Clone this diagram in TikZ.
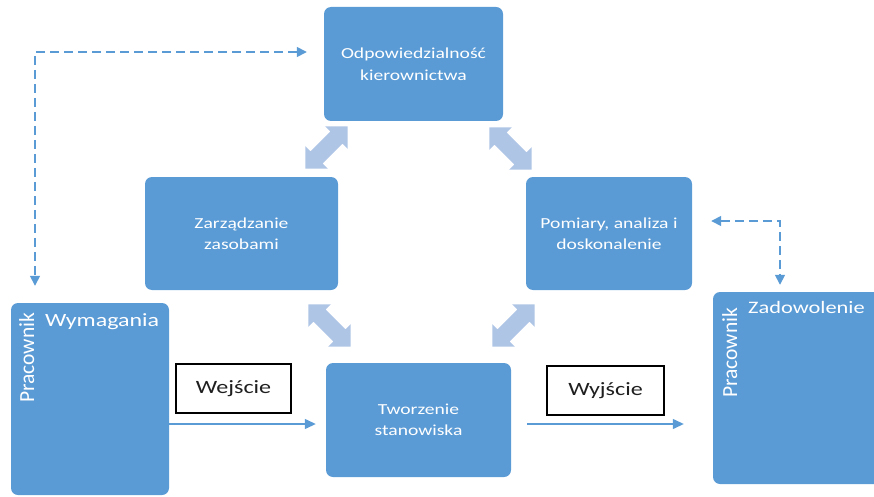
\documentclass[tikz,border=0pt]{standalone}
\usepackage{fontspec}
\setmainfont{Carlito}
\newfontfamily\widefont[FakeStretch=1.28]{Carlito}
\usetikzlibrary{arrows.meta}

\definecolor{boxblue}{HTML}{5B9BD5}
\definecolor{linkblue}{HTML}{AFC5E5}

\tikzset{
  box/.style={fill=boxblue, rounded corners=7pt, text=white, align=center,
    inner sep=0pt, font=\widefont\fontsize{15.3}{21.5}\selectfont},
  sidebox/.style={fill=boxblue, rounded corners=7pt, inner sep=0pt},
  sidetitle/.style={text=white, inner sep=0pt, font=\widefont\fontsize{17.5}{20}\selectfont},
  sidelabel/.style={text=white, inner sep=0pt, rotate=90, font=\fontsize{21.5}{24}\selectfont},
  tag/.style={draw=black, line width=1.2pt, fill=white, inner sep=0pt,
    text=black!88, font=\widefont\fontsize{18.8}{22}\selectfont},
  dashlink/.style={boxblue, line width=1.5pt, dash pattern=on 9pt off 5pt,
    {Triangle[length=10pt,width=10pt]}-{Triangle[length=10pt,width=10pt]}},
  flow/.style={boxblue, line width=1.3pt, -{Triangle[length=11pt,width=10pt]}},
  dbl/.pic={\fill[linkblue] (-30,0) -- (-14,-16) -- (-14,-8.5) -- (14,-8.5) -- (14,-16)
     -- (30,0) -- (14,16) -- (14,8.5) -- (-14,8.5) -- (-14,16) -- cycle;}
}

\begin{document}
\begin{tikzpicture}[x=1pt,y=-1pt]
  \path[use as bounding box] (0,0) rectangle (874,497);
  \clip (0,0) rectangle (874,497);

  % process boxes
  \node[box, minimum width=179pt, minimum height=114pt] (top) at (413.5,64)
    {Odpowiedzialność\\kierownictwa};
  \node[box, minimum width=193pt, minimum height=113pt] (zarz) at (241.5,233.5)
    {Zarządzanie\\zasobami};
  \node[box, minimum width=166pt, minimum height=113pt] (pom) at (609,233.5)
    {Pomiary, analiza i\\doskonalenie};
  \node[box, minimum width=185pt, minimum height=114pt] (tw) at (418.5,420)
    {Tworzenie\\stanowiska};

  % employee boxes
  \node[sidebox, minimum width=158pt, minimum height=192pt] (lbox) at (90,399) {};
  \node[sidebox, minimum width=190pt, minimum height=192pt] (rbox) at (808,388) {};
  \node[sidelabel, anchor=base west] (lprac) at (34,403) {Pracownik};
  \node[sidetitle, anchor=base west, font=\widefont\fontsize{18.7}{20}\selectfont]
    (lreq) at (45,326) {Wymagania};
  \node[sidelabel, anchor=base west] (rprac) at (737,398) {Pracownik};
  \node[sidetitle, anchor=base west] (rsat) at (748,313) {Zadowolenie};

  % input / output tags
  \node[tag, minimum width=115pt, minimum height=49pt] (wej) at (233.5,388.5) {Wejście};
  \node[tag, minimum width=117pt, minimum height=49pt] (wyj) at (605.5,390.5) {Wyjście};

  % wide two-way links between the process boxes
  \pic[rotate=45]  at (326.5,147.5) {dbl};
  \pic[rotate=-45] at (510.5,148.5) {dbl};
  \pic[rotate=-45] at (329.5,325.5) {dbl};
  \pic[rotate=45]  at (513.5,325.5) {dbl};

  % dashed feedback links
  \coordinate (dl) at (35,52);
  \coordinate (dr) at (780,221);
  \draw[dashlink] ([xshift=-17pt]top.west |- dl) -- (dl) -- ([yshift=17pt]dl |- lbox.north);
  \draw[dashlink] ([xshift=19pt]pom.east |- dr) -- (dr) -- ([yshift=7pt]dr |- rbox.north);

  % main flow
  \coordinate (fy) at (0,424);
  \draw[flow] (lbox.east |- fy) -- ([xshift=-10pt]tw.west |- fy);
  \draw[flow] ([xshift=16pt]tw.east |- fy) -- ([xshift=-29pt]rbox.west |- fy);
\end{tikzpicture}
\end{document}
